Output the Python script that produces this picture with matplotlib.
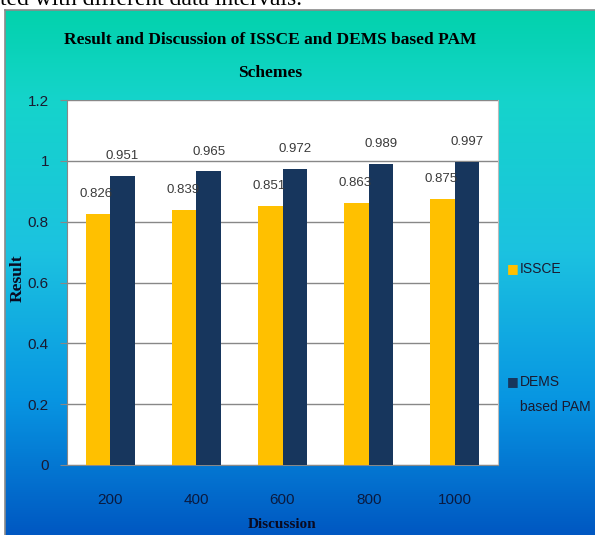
import numpy as np
import matplotlib
matplotlib.use("Agg")
import matplotlib.pyplot as plt
from matplotlib.colors import LinearSegmentedColormap

# 데이터
categories = ["200", "400", "600", "800", "1000"]
issce = [0.826, 0.839, 0.851, 0.863, 0.875]
dems = [0.951, 0.965, 0.972, 0.989, 0.997]
yticks = [0, 0.2, 0.4, 0.6, 0.8, 1, 1.2]
ytick_labels = ["0", "0.2", "0.4", "0.6", "0.8", "1", "1.2"]

W, H = 595, 535
sans = ["Liberation Sans", "DejaVu Sans"]
serif = ["Liberation Serif", "DejaVu Serif"]

fig = plt.figure(figsize=(W / 100, H / 100), dpi=100)
fig.patch.set_facecolor("white")

# 잘린 윗줄 문장 (원본처럼 위가 잘려 있음)
fig.text(0.0, 1 - 5 / H, "ted with different data intervals.", family=serif,
         fontsize=17, color="black", va="baseline", ha="left")

# 배경 그라데이션 상자
bg = fig.add_axes([5 / W, 0, 1 - 5 / W, (H - 10) / H])
cmap = LinearSegmentedColormap.from_list(
    "bg", [(0.0, "#02d2ac"), (0.17, "#15d4cb"), (0.46, "#1cc2e0"),
           (0.74, "#0896e2"), (1.0, "#0058c2")])
grad = np.linspace(0, 1, 256).reshape(-1, 1)
bg.imshow(grad, aspect="auto", cmap=cmap, extent=[0, 1, 0, 1], origin="upper")
bg.set_xticks([])
bg.set_yticks([])
for side in ["right", "bottom"]:
    bg.spines[side].set_visible(False)
for side in ["left", "top"]:
    bg.spines[side].set_color("#8a8a8a")
    bg.spines[side].set_linewidth(1.2)

# 메인 플롯
ax = fig.add_axes([67 / W, (H - 465) / H, (498 - 67) / W, (465 - 100) / H])
ax.set_facecolor("white")
x = np.arange(len(categories))
bw = 0.285
b1 = ax.bar(x - bw / 2, issce, bw, color="#ffc000", label="ISSCE", zorder=3)
b2 = ax.bar(x + bw / 2, dems, bw, color="#17365d", label="DEMS\nbased PAM", zorder=3)

for bars, vals, dx in [(b1, issce, -1), (b2, dems, 0)]:
    for r, v in zip(bars, vals):
        ax.annotate(f"{v:.3f}", (r.get_x() + r.get_width() / 2, v),
                    xytext=(dx, 10), textcoords="offset points", ha="center",
                    va="bottom", family=sans, fontsize=9.5, color="#3a3a3a",
                    zorder=4)

ax.set_xlim(-0.5, len(categories) - 0.5)
ax.set_ylim(0, 1.2)
ax.set_yticks(yticks)
ax.set_yticklabels(ytick_labels, family=sans, fontsize=11, color="#1a1a30")
ax.set_xticks(x)
ax.set_xticklabels(categories, family=sans, fontsize=11, color="#0a1a40")
ax.tick_params(axis="x", length=0, pad=20)
ax.tick_params(axis="y", length=5, color="#888888", pad=8)
ax.yaxis.grid(True, color="#888888", linewidth=1.0, zorder=0)
ax.spines["top"].set_visible(False)
ax.spines["left"].set_color("#888888")
ax.spines["bottom"].set_color("#888888")
ax.spines["right"].set_color("#bbbbbb")

# 제목, 축 이름
fig.text(270 / W, 1 - 40 / H, "Result and Discussion of ISSCE and DEMS based PAM",
         family=serif, fontweight="bold", fontsize=12.5, ha="center", va="center")
fig.text(270 / W, 1 - 73 / H, "Schemes", family=serif, fontweight="bold",
         fontsize=12.5, ha="center", va="center")
fig.text(282 / W, 1 - 525 / H, "Discussion", family=serif, fontweight="bold",
         fontsize=11, ha="center", va="center", color="#0a0a20")
fig.text(18 / W, 1 - 278 / H, "Result", family=serif, fontweight="bold",
         fontsize=12.5, ha="center", va="center", rotation=90, color="#0a0a20")

# 범례
fig.text(513 / W, 1 - 269 / H, "\u25a0", fontsize=9, color="#ffc000",
         ha="center", va="center")
fig.text(520 / W, 1 - 269 / H, "ISSCE", family=sans, fontsize=10,
         color="#1a1a30", ha="left", va="center")
fig.text(513 / W, 1 - 382 / H, "\u25a0", fontsize=9, color="#17365d",
         ha="center", va="center")
fig.text(520 / W, 1 - 382 / H, "DEMS", family=sans, fontsize=10,
         color="#1a1a30", ha="left", va="center")
fig.text(520 / W, 1 - 407 / H, "based PAM", family=sans, fontsize=10,
         color="#1a1a30", ha="left", va="center")

fig.savefig("out.png", dpi=100)
